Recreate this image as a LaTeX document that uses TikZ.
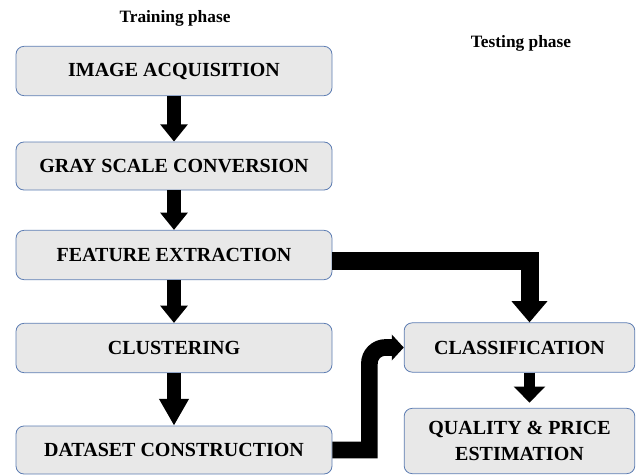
\documentclass[tikz,border=0pt]{standalone}
\usepackage{fontspec}
\setmainfont{Liberation Serif}
\usepackage{tikz}
\usetikzlibrary{arrows.meta, positioning}
\definecolor{boxgray}{RGB}{232, 232, 232}
\definecolor{edgeblue}{RGB}{92, 124, 178}

\begin{document}
\begin{tikzpicture}[x=0.75pt, y=-0.75pt,
    box/.style={rectangle, rounded corners=6pt, fill=boxgray, draw=edgeblue, line width=0.6pt, minimum width=237pt, minimum height=37pt, inner sep=0pt, align=center, font=\bfseries\fontsize{15}{19.5}\selectfont},
    arrow/.style={-{Triangle[width=20pt, length=13pt]}, line width=10.5pt, black},
    phase/.style={font=\bfseries\fontsize{13}{15}\selectfont}
]
    \useasboundingbox (0,0) rectangle (644,475);

    % Training phase
    \node[box] (acq) at (174, 71) {IMAGE ACQUISITION};
    \node[box, minimum height=36pt] (gray) at (174, 166) {GRAY SCALE CONVERSION};
    \node[box] (feat) at (174, 255) {FEATURE EXTRACTION};
    \node[box] (clus) at (174, 348) {CLUSTERING};
    \node[box, minimum height=36pt] (data) at (174, 450) {DATASET CONSTRUCTION};

    % Testing phase
    \node[box, minimum width=173pt] (cls) at (519.5, 347.5) {CLASSIFICATION};
    \node[box, minimum width=173pt, minimum height=49pt] (qual) at (519.5, 441) {QUALITY \& PRICE\\ESTIMATION};

    % Arrows
    \draw[arrow] (acq) -- (gray);
    \draw[arrow] (gray) -- (feat);
    \draw[arrow] (feat) -- (clus);
    \draw[arrow, -{Triangle[width=21pt, length=20pt]}] (clus) -- (data);
    \draw[arrow, line width=13.5pt, -{Triangle[width=26pt, length=16pt]}] ([yshift=-4.5pt]feat.east) -| ([xshift=7.5pt]cls.north);
    \draw[arrow, line width=12.5pt, -{Triangle[width=19pt, length=9pt]}] (data.east) -- ++(37,0) [rounded corners=12pt] |- (cls.west);
    \draw[arrow, line width=8pt, -{Triangle[width=23pt, length=12pt]}] ([xshift=7.5pt]cls.south) -- ([xshift=7.5pt, yshift=4pt]qual.north);

    % Labels
    \node[phase] (train) at (175, 18) {Training phase};
    \node[phase] (test) at (521, 43) {Testing phase};
\end{tikzpicture}
\end{document}
